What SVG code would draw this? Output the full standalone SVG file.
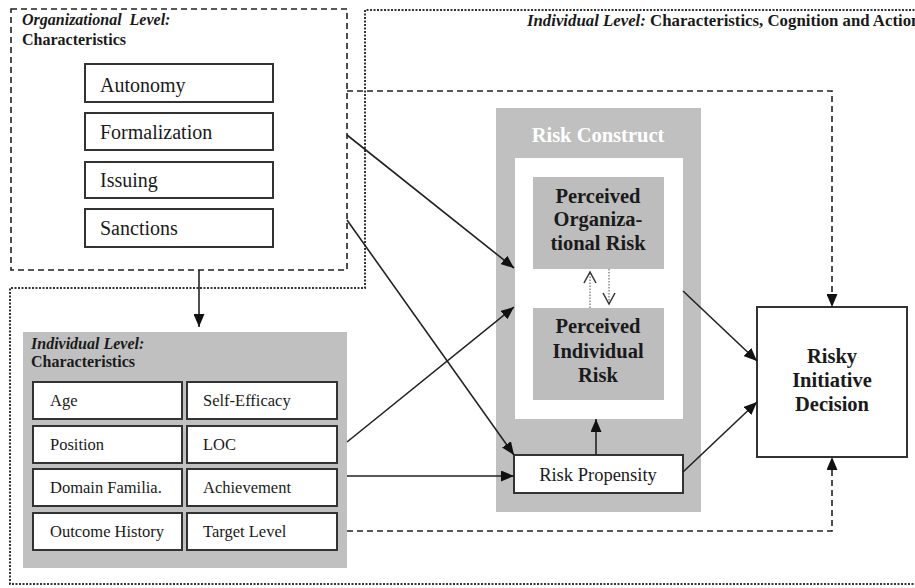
<svg xmlns="http://www.w3.org/2000/svg" width="915" height="588" viewBox="0 0 915 588" font-family="'Liberation Serif', 'DejaVu Serif', serif">
<style>
text, tspan{font-family:'Liberation Serif','DejaVu Serif',serif;fill:#1a1a1a}
.box{fill:#fff;stroke:#333;stroke-width:2}
.gray{fill:#c0c0c0}
.lbl{font-size:20px}
.sm{font-size:16.5px}
.b{font-weight:bold}
.bi{font-weight:bold;font-style:italic}
.hd{font-size:16px}
.big{font-size:20.5px;font-weight:bold;text-anchor:middle}
.line{stroke:#222;stroke-width:1.6;fill:none}
.dash{stroke:#222;stroke-width:1.6;fill:none;stroke-dasharray:6,4}
.dot{stroke:#333;stroke-width:2;fill:none;stroke-dasharray:2,1.5}
</style>
<defs>
<marker id="ah" markerUnits="userSpaceOnUse" markerWidth="13" markerHeight="11" refX="13" refY="5.5" orient="auto" viewBox="0 0 13 11">
<path d="M0,0 L13,5.5 L0,11 z" fill="#111"/>
</marker>
<marker id="oh" markerUnits="userSpaceOnUse" markerWidth="14" markerHeight="14" refX="12" refY="7" orient="auto" viewBox="0 0 14 14">
<path d="M1,1 L12,7 L1,13" fill="none" stroke="#333" stroke-width="1.5"/>
</marker>
</defs>
<rect width="915" height="588" fill="#fff"/>

<g id="individual-outline">
<path class="dot" d="M918,10 H365 V288 H10 V584 H918"/>
<text x="527" y="26" style="font-size:16.8px"><tspan class="bi">Individual Level:</tspan><tspan class="b"> Characteristics, Cognition and Action</tspan></text>
</g>

<g id="org-level">
<rect x="11" y="9" width="336" height="261" class="dash"/>
<text x="22" y="25" class="hd bi" xml:space="preserve">Organizational  Level:</text>
<text x="22" y="45" class="hd b">Characteristics</text>
<g id="autonomy"><rect x="85" y="64" width="188" height="38" class="box"/><text x="100" y="92" class="lbl">Autonomy</text></g>
<g id="formalization"><rect x="85" y="113" width="188" height="37" class="box"/><text x="100" y="139" class="lbl">Formalization</text></g>
<g id="issuing"><rect x="85" y="162" width="188" height="36" class="box"/><text x="100" y="187" class="lbl">Issuing</text></g>
<g id="sanctions"><rect x="85" y="209" width="188" height="38" class="box"/><text x="100" y="235" class="lbl">Sanctions</text></g>
</g>

<g id="ind-characteristics">
<rect x="23" y="332" width="324" height="236" class="gray"/>
<text x="31" y="349" class="hd bi">Individual Level:</text>
<text x="31" y="367" class="hd b">Characteristics</text>
<g id="age"><rect x="33" y="382" width="149" height="37" class="box"/><text x="50" y="406" class="sm">Age</text></g>
<g id="self-efficacy"><rect x="187" y="382" width="150" height="37" class="box"/><text x="203" y="406" class="sm">Self-Efficacy</text></g>
<g id="position"><rect x="33" y="426" width="149" height="37" class="box"/><text x="50" y="450" class="sm">Position</text></g>
<g id="loc"><rect x="187" y="426" width="150" height="37" class="box"/><text x="203" y="450" class="sm">LOC</text></g>
<g id="domain"><rect x="33" y="469" width="149" height="37" class="box"/><text x="50" y="493" class="sm">Domain Familia.</text></g>
<g id="achievement"><rect x="187" y="469" width="150" height="37" class="box"/><text x="203" y="493" class="sm">Achievement</text></g>
<g id="outcome"><rect x="33" y="513" width="149" height="37" class="box"/><text x="50" y="537" class="sm">Outcome History</text></g>
<g id="target"><rect x="187" y="513" width="150" height="37" class="box"/><text x="203" y="537" class="sm">Target Level</text></g>
</g>

<g id="risk-construct">
<rect x="496" y="108" width="205" height="404" class="gray"/>
<text x="598" y="142" class="big" style="fill:#fff">Risk Construct</text>
<rect x="515" y="158" width="168" height="261" fill="#fff"/>
<g id="perceived-org">
<rect x="533" y="177" width="131" height="92" fill="#bdbdbd"/>
<text x="598" y="203" class="big">Perceived</text>
<text x="598" y="226" class="big">Organiza-</text>
<text x="598" y="250" class="big">tional Risk</text>
</g>
<g id="perceived-ind">
<rect x="533" y="308" width="131" height="92" fill="#bdbdbd"/>
<text x="598" y="333" class="big">Perceived</text>
<text x="598" y="358" class="big">Individual</text>
<text x="598" y="382" class="big">Risk</text>
</g>
<g id="risk-propensity">
<rect x="514" y="455" width="169" height="38" class="box"/>
<text x="598" y="481" style="font-size:18.5px" text-anchor="middle">Risk Propensity</text>
</g>
</g>

<g id="risky-decision">
<rect x="757" y="307" width="150" height="150" class="box"/>
<text x="832" y="363" class="big">Risky</text>
<text x="832" y="387" class="big">Initiative</text>
<text x="832" y="411" class="big">Decision</text>
</g>

<g id="connectors">
<line x1="199" y1="270" x2="199" y2="327" class="line" marker-end="url(#ah)"/>
<path d="M347,91 H832 V307" class="dash" marker-end="url(#ah)"/>
<path d="M347,531 H832 V457" class="dash" marker-end="url(#ah)"/>
<line x1="347" y1="135" x2="514" y2="268" class="line" marker-end="url(#ah)"/>
<line x1="347" y1="220" x2="514" y2="455" class="line" marker-end="url(#ah)"/>
<line x1="347" y1="442" x2="514" y2="307" class="line" marker-end="url(#ah)"/>
<line x1="347" y1="476" x2="514" y2="476" class="line" marker-end="url(#ah)"/>
<line x1="596" y1="455" x2="596" y2="419" class="line" marker-end="url(#ah)"/>
<line x1="683" y1="291" x2="757" y2="361" class="line" marker-end="url(#ah)"/>
<line x1="683" y1="472" x2="757" y2="402" class="line" marker-end="url(#ah)"/>
<line x1="590" y1="308" x2="590" y2="272" stroke="#777" stroke-width="1.3" stroke-dasharray="1.5,1.5" marker-end="url(#oh)"/>
<line x1="609" y1="269" x2="609" y2="304" stroke="#777" stroke-width="1.3" stroke-dasharray="1.5,1.5" marker-end="url(#oh)"/>
</g>
</svg>
